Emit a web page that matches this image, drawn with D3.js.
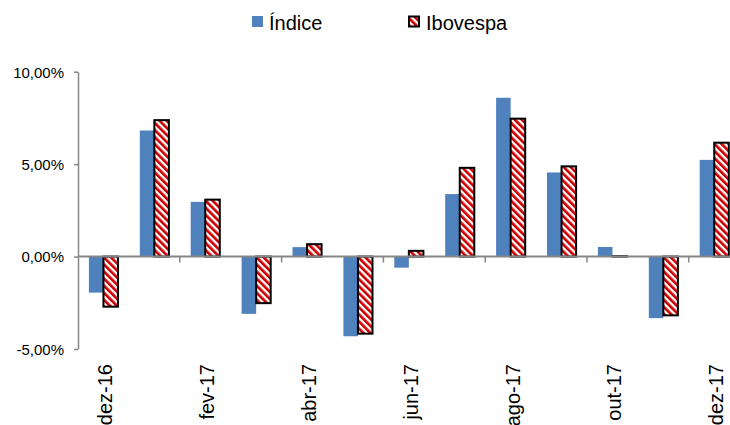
<!DOCTYPE html>
<html>
<head>
<meta charset="utf-8">
<script src="https://cdn.jsdelivr.net/npm/d3@7"></script>
<style>
  html, body { margin: 0; padding: 0; background: #fff; }
  svg { display: block; font-family: "Liberation Sans", Arial, sans-serif; }
</style>
</head>
<body>
<svg id="chart" width="730" height="425"></svg>
<script>
const categories = ["dez-16","jan-17","fev-17","mar-17","abr-17","mai-17","jun-17","jul-17","ago-17","set-17","out-17","nov-17","dez-17"];
const indice    = [-1.95, 6.82, 2.96, -3.10, 0.51, -4.31, -0.60, 3.38, 8.59, 4.55, 0.52, -3.33, 5.23];
const ibovespa  = [-2.71, 7.38, 3.08, -2.52, 0.67, -4.17, 0.31, 4.80, 7.46, 4.88, 0.02, -3.18, 6.16];
const seriesNames = ["Índice", "Ibovespa"];
const yTicks = [-5, 0, 5, 10];
const xLabels = ["dez-16","fev-17","abr-17","jun-17","ago-17","out-17","dez-17"];

const svg = d3.select("#chart");

const locale = d3.formatLocale({decimal: ",", thousands: ".", grouping: [3], currency: ["R$", ""], minus: "-"});
const fmt = v => locale.format(".2f")(v) + "%";

const x = d3.scaleBand().domain(categories).range([78, 739.7]).paddingInner(0).paddingOuter(0);
const xs = d3.scaleBand().domain(seriesNames).range([0, x.bandwidth()]).paddingInner(0).paddingOuter(0.75);
const y = d3.scaleLinear().domain([-5, 10]).range([349, 71.7]);

// pattern
const defs = svg.append("defs");
const pat = defs.append("pattern")
  .attr("id", "diag").attr("patternUnits", "userSpaceOnUse")
  .attr("width", 5).attr("height", 5)
  .attr("patternTransform", "rotate(-45)");
pat.append("rect").attr("width", 5).attr("height", 5).attr("fill", "#ffffff");
pat.append("rect").attr("width", 2.7).attr("height", 5).attr("fill", "#cc0000");

const data = categories.map((c, i) => ({c, vals: [
  {s: seriesNames[0], v: indice[i]},
  {s: seriesNames[1], v: ibovespa[i]}
]}));

const groups = svg.append("g").selectAll("g").data(data).join("g")
  .attr("transform", d => `translate(${x(d.c)},0)`);

groups.selectAll("rect").data(d => d.vals).join("rect")
  .attr("x", d => xs(d.s))
  .attr("width", xs.bandwidth())
  .attr("y", d => Math.min(y(d.v), y(0)))
  .attr("height", d => Math.abs(y(d.v) - y(0)))
  .attr("fill", d => d.s === seriesNames[0] ? "#4f81bd" : "url(#diag)")
  .attr("stroke", d => d.s === seriesNames[0] ? "none" : "#000")
  .attr("stroke-width", d => d.s === seriesNames[0] ? 0 : 2);

// y axis
const yAxis = svg.append("g").attr("transform", "translate(78,0)")
  .call(d3.axisLeft(y).tickValues(yTicks).tickFormat(fmt).tickSize(4).tickSizeOuter(0));
yAxis.select(".domain").attr("stroke", "#868686").attr("stroke-width", 1.5);
yAxis.selectAll(".tick line").attr("stroke", "#868686").attr("stroke-width", 1.5);
yAxis.selectAll(".tick text").attr("font-size", 15).attr("fill", "#000")
  .attr("font-family", "Liberation Sans, Arial, sans-serif")
  .attr("x", -14).attr("dy", "0.36em");

// zero line with ticks
const tickCats = categories.filter((c, i) => i % 2 === 0 && i > 0);
const xAxis = svg.append("g").attr("transform", `translate(0,${y(0)})`);
xAxis.append("line").attr("x1", 78).attr("x2", 739.7).attr("y1", 0).attr("y2", 0)
  .attr("stroke", "#868686").attr("stroke-width", 2);
xAxis.selectAll("line.t").data(tickCats).join("line").attr("class", "t")
  .attr("x1", d => x(d)).attr("x2", d => x(d)).attr("y1", 0).attr("y2", 6)
  .attr("stroke", "#868686").attr("stroke-width", 1.5);

// x labels
svg.append("g").selectAll("text").data(xLabels).join("text")
  .attr("transform", d => `translate(${x(d) + x.bandwidth() / 2 + 9},364) rotate(-90)`)
  .attr("text-anchor", "end")
  .attr("font-size", 20)
  .attr("fill", "#000")
  .text(d => d);

// legend
const lg = svg.append("g");
lg.append("rect").attr("x", 252).attr("y", 16).attr("width", 11).attr("height", 11).attr("fill", "#4f81bd");
lg.append("text").attr("x", 269).attr("y", 30).attr("font-size", 20).attr("fill", "#000").text(seriesNames[0]);
lg.append("rect").attr("x", 409).attr("y", 16.5).attr("width", 10).attr("height", 10)
  .attr("fill", "url(#diag)").attr("stroke", "#000").attr("stroke-width", 2);
lg.append("text").attr("x", 426).attr("y", 30).attr("font-size", 20).attr("fill", "#000").text(seriesNames[1]);
</script>
</body>
</html>
